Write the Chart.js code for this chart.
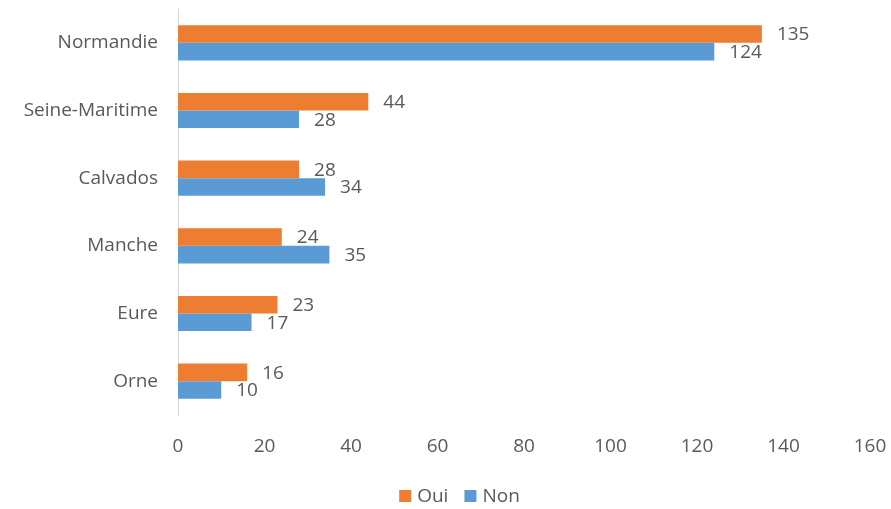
<!DOCTYPE html>
<html>
<head>
<meta charset="utf-8">
<script src="https://cdn.jsdelivr.net/npm/chart.js@4"></script>
<style>
  html, body { margin: 0; padding: 0; background: #fff; }
  #wrap { width: 891px; height: 509px; }
</style>
</head>
<body>
<div id="wrap"><canvas id="chart"></canvas></div>
<script>
const categories = ['Normandie', 'Seine-Maritime', 'Calvados', 'Manche', 'Eure', 'Orne'];
const oui = [135, 44, 28, 24, 23, 16];
const non = [124, 28, 34, 35, 17, 10];
const xTicks = [0, 20, 40, 60, 80, 100, 120, 140, 160];

const textColor = '#595959';
const fontFamily = "'Open Sans', sans-serif";
const fontSize = 19;

// value labels just past the end of each bar
const barLabels = {
  id: 'barLabels',
  afterDatasetsDraw(chart) {
    const ctx = chart.ctx;
    ctx.save();
    ctx.font = fontSize + 'px ' + fontFamily;
    ctx.fillStyle = textColor;
    ctx.textAlign = 'left';
    ctx.textBaseline = 'middle';
    chart.data.datasets.forEach((ds, i) => {
      chart.getDatasetMeta(i).data.forEach((bar, j) => {
        ctx.fillText(ds.data[j], bar.x + 15, bar.y + 1);
      });
    });
    ctx.restore();
  }
};

// Excel-like legend: small squares, tight gap to text
const excelLegend = {
  id: 'excelLegend',
  afterDraw(chart) {
    const ctx = chart.ctx;
    ctx.save();
    ctx.font = fontSize + 'px ' + fontFamily;
    ctx.textBaseline = 'middle';
    ctx.textAlign = 'left';
    const box = 12, gap = 6, itemGap = 16;
    const items = chart.data.datasets.map(ds => ({
      text: ds.label, color: ds.backgroundColor, w: ctx.measureText(ds.label).width
    }));
    let total = items.reduce((s, it) => s + box + gap + it.w, 0) + itemGap * (items.length - 1);
    let x = chart.width / 2 + 14 - total / 2;
    const y = 496;
    items.forEach(it => {
      ctx.fillStyle = it.color;
      ctx.fillRect(x, y - box / 2, box, box);
      ctx.fillStyle = textColor;
      ctx.fillText(it.text, x + box + gap, y + 1);
      x += box + gap + it.w + itemGap;
    });
    ctx.restore();
  }
};

new Chart(document.getElementById('chart'), {
  type: 'bar',
  data: {
    labels: categories,
    datasets: [{
      label: 'Oui',
      data: oui,
      backgroundColor: '#ED7D31',
      categoryPercentage: 0.52,
      barPercentage: 1.0
    }, {
      label: 'Non',
      data: non,
      backgroundColor: '#5B9BD5',
      categoryPercentage: 0.52,
      barPercentage: 1.0
    }]
  },
  options: {
    indexAxis: 'y',
    responsive: true,
    maintainAspectRatio: false,
    animation: false,
    layout: { padding: { top: 9, right: 21, left: 0, bottom: 36 } },
    plugins: {
      legend: { display: false },
      tooltip: { enabled: false }
    },
    scales: {
      x: {
        min: 0,
        max: 160,
        afterBuildTicks: scale => { scale.ticks = xTicks.map(v => ({ value: v })); },
        afterFit: scale => {
          scale.height = 58;
          scale.paddingLeft = 0;
          scale.paddingRight = 0;
        },
        grid: { display: false, drawTicks: false },
        border: { display: false },
        ticks: {
          color: textColor,
          font: { family: fontFamily, size: fontSize },
          padding: 20,
          maxRotation: 0
        }
      },
      y: {
        afterFit: scale => {
          scale.width = 178;
          scale.paddingTop = 0;
          scale.paddingBottom = 0;
        },
        grid: { display: false, drawTicks: false },
        border: { display: true, color: '#D9D9D9', width: 1 },
        ticks: {
          color: textColor,
          font: { family: fontFamily, size: fontSize },
          padding: 20
        }
      }
    }
  },
  plugins: [barLabels, excelLegend]
});
</script>
</body>
</html>
